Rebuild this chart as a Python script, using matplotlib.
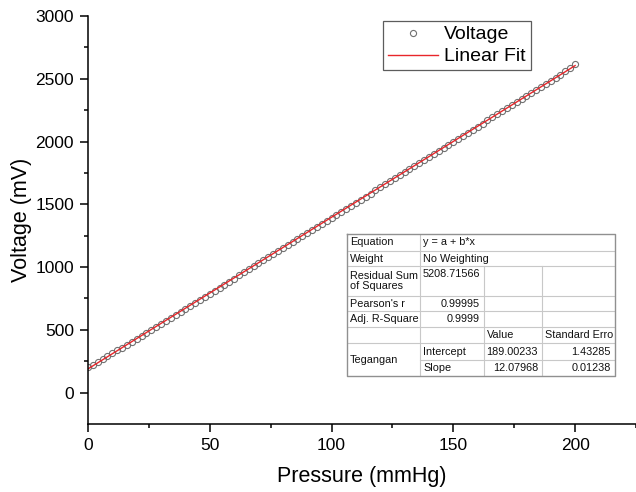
import numpy as np
import matplotlib.pyplot as plt

plt.rcParams['font.family'] = ['Liberation Sans', 'DejaVu Sans']

# Datos (presión en mmHg, voltaje en mV)
pressure = np.arange(0, 201, 2)
voltage = [
    205, 222, 244, 266, 290, 313, 336, 359, 383, 406,
    430, 453, 477, 501, 525, 549, 573, 597, 621, 645,
    669, 692, 716, 741, 765, 789, 812, 836, 861, 885,
    909, 933, 957, 981, 1005, 1030, 1054, 1078, 1102, 1126,
    1150, 1175, 1199, 1223, 1247, 1271, 1295, 1320, 1344, 1368,
    1392, 1416, 1440, 1465, 1489, 1513, 1537, 1561, 1585, 1610,
    1634, 1658, 1682, 1706, 1731, 1755, 1779, 1803, 1828, 1852,
    1876, 1900, 1925, 1949, 1973, 1997, 2022, 2046, 2070, 2095,
    2119, 2143, 2168, 2192, 2216, 2241, 2265, 2289, 2314, 2338,
    2362, 2387, 2411, 2436, 2460, 2484, 2509, 2533, 2558, 2583,
    2614,
]

# Parámetros del ajuste lineal (tabla de resultados)
intercept = 189.00233
slope = 12.07968
fit_x = [0, 200]

fig = plt.figure(figsize=(6.36, 4.92), dpi=100)
ax = fig.add_axes([88 / 636, 1 - 424 / 492, 1 - 88 / 636, (424 - 16) / 492])

ax.plot(pressure, voltage, 'o', mfc='none', mec='#707070', ms=4.4, mew=0.8,
        label='Voltage')
ax.plot(fit_x, [intercept + slope * v for v in fit_x], color='#e8262a', lw=1.0,
        label='Linear Fit')

ax.set_xlim(0, 224)
ax.set_ylim(-250, 3000)
ax.set_xticks([0, 50, 100, 150, 200])
ax.set_xticks([25, 75, 125, 175, 225], minor=True)
ax.set_yticks(range(0, 3001, 500))
ax.set_yticks(range(250, 3000, 500), minor=True)
for s in ['top', 'right']:
    ax.spines[s].set_visible(False)
for s in ['left', 'bottom']:
    ax.spines[s].set_linewidth(1.1)
ax.tick_params(which='major', direction='out', length=5.5, width=1.1, labelsize=12.5, pad=4.5)
ax.tick_params(which='minor', direction='out', length=3, width=1.1)

ax.set_xlabel('Pressure (mmHg)', fontsize=15.5)
ax.set_ylabel('Voltage (mV)', fontsize=15.5)
ax.xaxis.set_label_coords(0.5, -(466 - 424) / 408)
ax.yaxis.set_label_coords(-(88 - 32) / 548, 0.5)

leg = ax.legend(loc='upper left', bbox_to_anchor=((383 - 88) / 548, 1 - (21 - 16) / 408),
                fontsize=14, frameon=True, fancybox=False, edgecolor='#333333',
                borderpad=0.25, labelspacing=0.22, handlelength=2.6, handletextpad=0.3,
                borderaxespad=0)
leg.get_frame().set_linewidth(0.9)

# Tabla de resultados del ajuste (coordenadas internas en píxeles)
tx = fig.add_axes([347 / 636, 1 - 376 / 492, (615 - 347) / 636, (376 - 234) / 492])
tx.set_xlim(0, 268)
tx.set_ylim(142, 0)
tx.axis('off')
cols = [0, 73, 137, 195, 268]
rows = [0, 16.7, 32.4, 61.7, 77.4, 93.4, 109.4, 125.7, 142]
lc = '#c8c8c8'
for r in rows[1:-1]:
    x0 = cols[1] if r == rows[7] else cols[0]
    tx.plot([x0, cols[4]], [r, r], color=lc, lw=0.8)
tx.plot([cols[1], cols[1]], [0, 142], color=lc, lw=0.8)
for c in cols[2:4]:
    tx.plot([c, c], [rows[2], 142], color=lc, lw=0.8)
tx.plot([0, 268, 268, 0, 0], [0, 0, 142, 142, 0], color='#909090', lw=1.0, clip_on=False)

fs = 7.8
def cell(txt, col, r0, r1, align='left'):
    x = cols[col] + 3 if align == 'left' else cols[col + 1] - 4
    tx.text(x, (rows[r0] + rows[r1]) / 2, txt, ha=align, va='center', fontsize=fs,
            color='#111111', linespacing=1.0)

cell('Equation', 0, 0, 1)
cell('y = a + b*x', 1, 0, 1)
cell('Weight', 0, 1, 2)
cell('No Weighting', 1, 1, 2)
cell('Residual Sum\nof Squares', 0, 2, 3)
tx.text(cols[1] + 3, rows[2] + 8, '5208.71566', ha='left', va='center', fontsize=fs, color='#111111')
cell("Pearson's r", 0, 3, 4)
cell('0.99995', 1, 3, 4, 'right')
cell('Adj. R-Square', 0, 4, 5)
cell('0.9999', 1, 4, 5, 'right')
cell('Value', 2, 5, 6)
cell('Standard Erro', 3, 5, 6)
cell('Tegangan', 0, 6, 8)
cell('Intercept', 1, 6, 7)
cell('189.00233', 2, 6, 7, 'right')
cell('1.43285', 3, 6, 7, 'right')
cell('Slope', 1, 7, 8)
cell('12.07968', 2, 7, 8, 'right')
cell('0.01238', 3, 7, 8, 'right')

fig.savefig('out.png', dpi=100)
